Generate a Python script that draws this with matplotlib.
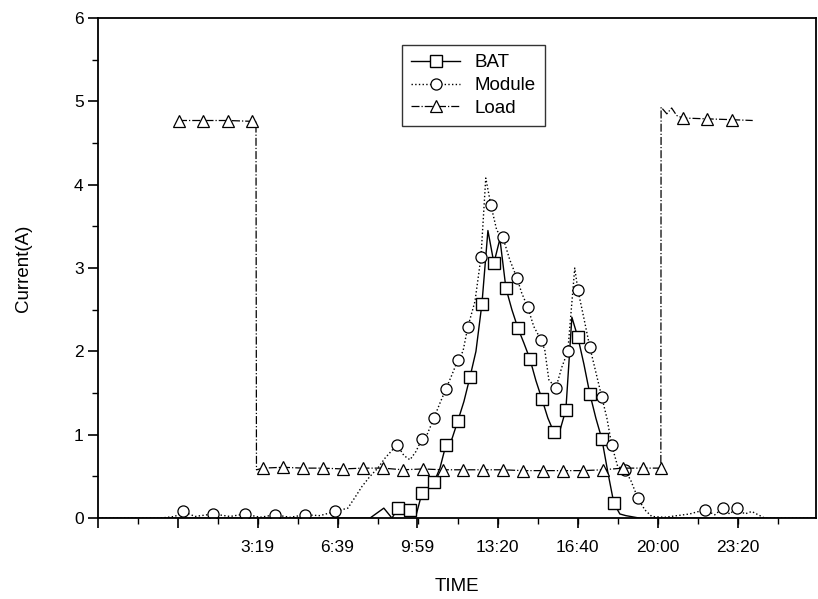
import matplotlib
matplotlib.use("Agg")
import matplotlib.pyplot as plt
from matplotlib.ticker import MultipleLocator, FixedLocator

plt.rcParams['font.family'] = ['Liberation Sans', 'DejaVu Sans']

# time in hours, current in A
bat_t = [-3.33, -2.0, -0.75, 0.5, 1.75, 3.0, 4.25, 5.5, 6.75, 8.0, 8.58, 8.92,
         9.17, 9.42, 9.67, 9.92, 10.17, 10.42, 10.67, 10.92, 11.17, 11.42, 11.67,
         11.92, 12.17, 12.42, 12.67, 12.92, 13.17, 13.42, 13.67, 13.92, 14.17,
         14.42, 14.67, 14.92, 15.17, 15.42, 15.67, 15.92, 16.17, 16.42, 16.67,
         16.92, 17.17, 17.42, 17.67, 17.92, 18.17, 18.42, 18.67, 19.25, 20.08,
         21.75, 23.83, 26.6]
bat_i = [0.0, 0.0, 0.0, 0.0, 0.0, 0.0, 0.0, 0.0, 0.0, 0.0, 0.12, 0.0,
         0.12, 0.12, 0.1, 0.03, 0.3, 0.35, 0.43, 0.6, 0.88, 0.95, 1.17,
         1.4, 1.69, 2.0, 2.57, 3.45, 3.06, 3.35, 2.76, 2.5, 2.28,
         2.1, 1.91, 1.65, 1.43, 1.2, 1.03, 1.05, 1.3, 2.41, 2.17,
         1.85, 1.49, 1.2, 0.95, 0.55, 0.18, 0.05, 0.03, 0.0, 0.0,
         0.0, 0.0, 0.0]
bat_marks = [12, 14, 16, 18, 20, 22, 24, 26, 28, 30, 32, 34, 36, 38, 40, 42, 44, 46, 48]

mod_t = [-3.33, -2.0, -0.75, -0.13, 0.21, 0.71, 1.46, 2.17, 2.79, 3.42, 4.04,
         4.67, 5.29, 5.92, 6.54, 7.08, 7.38, 7.67, 8.0, 8.33, 8.63, 9.13, 9.42,
         9.67, 9.92, 10.17, 10.38, 10.67, 10.92, 11.17, 11.42, 11.67, 11.88,
         12.08, 12.38, 12.63, 12.83, 13.04, 13.29, 13.54, 13.83, 14.13, 14.33,
         14.58, 14.83, 15.13, 15.29, 15.46, 15.75, 16.0, 16.25, 16.54, 16.67,
         16.92, 17.17, 17.42, 17.67, 17.88, 18.08, 18.33, 18.63, 18.88, 19.17,
         19.46, 19.75, 20.29, 21.33, 21.96, 22.38, 22.71, 23.0, 23.29, 23.63,
         23.92, 24.46, 25.5, 26.6]
mod_i = [0.0, 0.0, 0.0, 0.02, 0.08, 0.02, 0.05, 0.02, 0.05, 0.01, 0.04,
         0.01, 0.04, 0.03, 0.08, 0.12, 0.25, 0.38, 0.5, 0.6, 0.72, 0.88, 0.75,
         0.7, 0.8, 0.95, 1.0, 1.2, 1.38, 1.55, 1.72, 1.9, 2.0,
         2.29, 2.6, 3.13, 4.08, 3.76, 3.45, 3.37, 3.1, 2.88, 2.7,
         2.53, 2.3, 2.14, 2.02, 1.66, 1.56, 1.81, 2.0, 3.0, 2.74,
         2.4, 2.05, 1.75, 1.45, 1.2, 0.88, 0.62, 0.58, 0.45, 0.24,
         0.1, 0.02, 0.01, 0.05, 0.1, 0.04, 0.12, 0.05, 0.12, 0.05,
         0.08, 0.0, 0.0, 0.0]
mod_marks = [4, 6, 8, 10, 12, 14, 21, 25, 27, 29, 31, 33, 35, 37, 39, 41, 43,
             45, 48, 50, 52, 54, 56, 58, 60, 62, 67, 69, 71]

load_t = [0.04, 1.04, 2.08, 3.08, 3.25, 3.27, 3.54, 4.38, 5.21, 6.04, 6.88,
          7.71, 8.54, 9.38, 10.21, 11.04, 11.88, 12.71, 13.54, 14.38, 15.21,
          16.04, 16.88, 17.71, 18.54, 19.38, 20.13, 20.14, 20.38, 20.58, 20.79,
          21.04, 22.04, 23.08, 23.96]
load_i = [4.77, 4.77, 4.77, 4.76, 4.75, 0.58, 0.6, 0.61, 0.6, 0.6, 0.59,
          0.6, 0.6, 0.58, 0.59, 0.58, 0.58, 0.58, 0.58, 0.57, 0.57,
          0.57, 0.57, 0.58, 0.6, 0.6, 0.6, 4.93, 4.85, 4.92, 4.83,
          4.8, 4.79, 4.78, 4.77]
load_marks = [0, 1, 2, 3, 6, 7, 8, 9, 10, 11, 12, 13, 14, 15, 16, 17, 18, 19,
              20, 21, 22, 23, 24, 25, 26, 31, 32, 33]

tick_pos = [-3.33, 0.0, 3.32, 6.65, 9.98, 13.33, 16.67, 20.0, 23.33]
tick_lab = ['', '', '3:19', '6:39', '9:59', '13:20', '16:40', '20:00', '23:20']

fig = plt.figure(figsize=(8.18, 5.99), dpi=100)
ax = fig.add_axes([0.12, 0.135, 0.8776, 0.835])

ax.plot(bat_t, bat_i, color='black', lw=1.0, ls='-', marker='s', ms=8,
        mfc='white', mec='black', mew=1.0, markevery=bat_marks, label='BAT')
ax.plot(mod_t, mod_i, color='black', lw=1.0, ls=':', marker='o', ms=8,
        mfc='white', mec='black', mew=0.9, markevery=mod_marks, label='Module')
ax.plot(load_t, load_i, color='black', lw=0.9, ls='-.', marker='^', ms=9,
        mfc='white', mec='black', mew=0.9, markevery=load_marks, label='Load')

ax.set_xlim(-3.33, 26.6)
ax.set_ylim(0, 6)
ax.xaxis.set_major_locator(FixedLocator(tick_pos))
ax.set_xticklabels(tick_lab)
ax.xaxis.set_minor_locator(MultipleLocator(3.333 / 2))
ax.yaxis.set_major_locator(MultipleLocator(1))
ax.yaxis.set_minor_locator(MultipleLocator(0.5))
ax.tick_params(which='major', direction='out', length=7, width=1.2, labelsize=12.5)
ax.tick_params(axis='x', which='major', pad=9)
ax.tick_params(which='minor', direction='out', length=4, width=1.0)
for s in ax.spines.values():
    s.set_linewidth(1.3)

ax.set_xlabel('TIME', fontsize=13.5, labelpad=16)
ax.set_ylabel('Current(A)', fontsize=13.5, labelpad=30)

leg = ax.legend(loc='upper left', bbox_to_anchor=(0.41, 0.965), fontsize=13.5,
                frameon=True, fancybox=False, edgecolor='black',
                handlelength=2.6, borderpad=0.5, labelspacing=0.3)
leg.get_frame().set_linewidth(1.0)

fig.savefig('out.png', dpi=100)
